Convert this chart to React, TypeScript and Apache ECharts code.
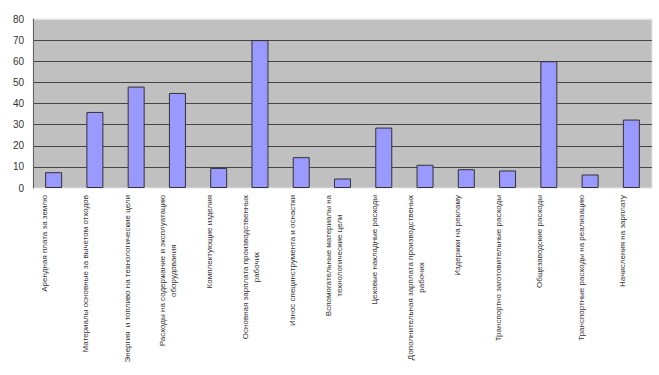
import React, { useEffect, useRef } from "react";
import * as echarts from "echarts";

const categories: string[] = [
  "Арендная плата за землю",
  "Материалы основные за вычетом отходов",
  "Энергия  и топливо на технологические цели",
  "Расходы на содержание и эксплуатацию\nоборудования",
  "Комплектующие изделия",
  "Основная зарплата производственных\nрабочих",
  "Износ специнструмента и оснастки",
  "Вспомогательные материалы на\nтехнологические цели",
  "Цеховые накладные расходы",
  "Дополнительная зарплата производственых\nрабочих",
  "Издержки на рекламу",
  "Транспортно заготовительные расходы",
  "Общезаводские расходы",
  "Транспортные расходы на реализацию",
  "Начисления на зарплату",
];

const values: number[] = [7.5, 36, 48, 45, 9.5, 70, 14.6, 4.5, 28.6, 11, 8.9, 8.3, 60, 6.4, 32.4];

const yMin = 0;
const yMax = 80;
const yStep = 10;

export default function App() {
  const ref = useRef<HTMLDivElement>(null);

  useEffect(() => {
    if (!ref.current) return;
    const chart = echarts.init(ref.current, undefined, { renderer: "svg" });
    const labelFont = "'Liberation Sans', Arial, sans-serif";
    const splitColors = ["rgba(0,0,0,0)"];
    for (let v = yMin + yStep; v < yMax; v += yStep) splitColors.push("#454545");
    splitColors.push("#e4e4e4");

    chart.setOption({
      animation: false,
      backgroundColor: "#ffffff",
      grid: {
        left: 33,
        right: 7,
        top: 19,
        bottom: 187,
        show: true,
        backgroundColor: "#c0c0c0",
        borderColor: "#e4e4e4",
        borderWidth: 1,
      },
      xAxis: {
        type: "category",
        data: categories,
        boundaryGap: true,
        axisLine: { show: false },
        axisTick: { show: false },
        axisLabel: {
          interval: 0,
          rotate: 90,
          margin: 7,
          padding: [0, 0, 18, 0],
          color: "#333333",
          fontSize: 8,
          fontFamily: labelFont,
          lineHeight: 11,
          formatter: (v: string) =>
            v
              .split("\n")
              .map((s) => `{c|${s}}`)
              .join("\n"),
          rich: {
            c: {
              align: "center",
              fontSize: 8,
              lineHeight: 11,
              fontFamily: labelFont,
              color: "#333333",
            },
          },
        },
      },
      yAxis: {
        type: "value",
        min: yMin,
        max: yMax,
        interval: yStep,
        axisLine: { show: true, lineStyle: { color: "#606060", width: 1 } },
        axisTick: { show: false },
        axisLabel: {
          margin: 9,
          color: "#333333",
          fontSize: 10,
          fontFamily: labelFont,
        },
        splitLine: {
          show: true,
          lineStyle: { color: splitColors, width: 1 },
        },
      },
      series: [
        {
          type: "bar",
          data: values,
          barWidth: 17,
          itemStyle: {
            color: "#9999ff",
            borderColor: "#333333",
            borderWidth: 1,
          },
        },
      ],
    });
    return () => chart.dispose();
  }, []);

  return (
    <div
      ref={ref}
      style={{ position: "fixed", left: 0, top: 0, width: 659, height: 375 }}
    />
  );
}
